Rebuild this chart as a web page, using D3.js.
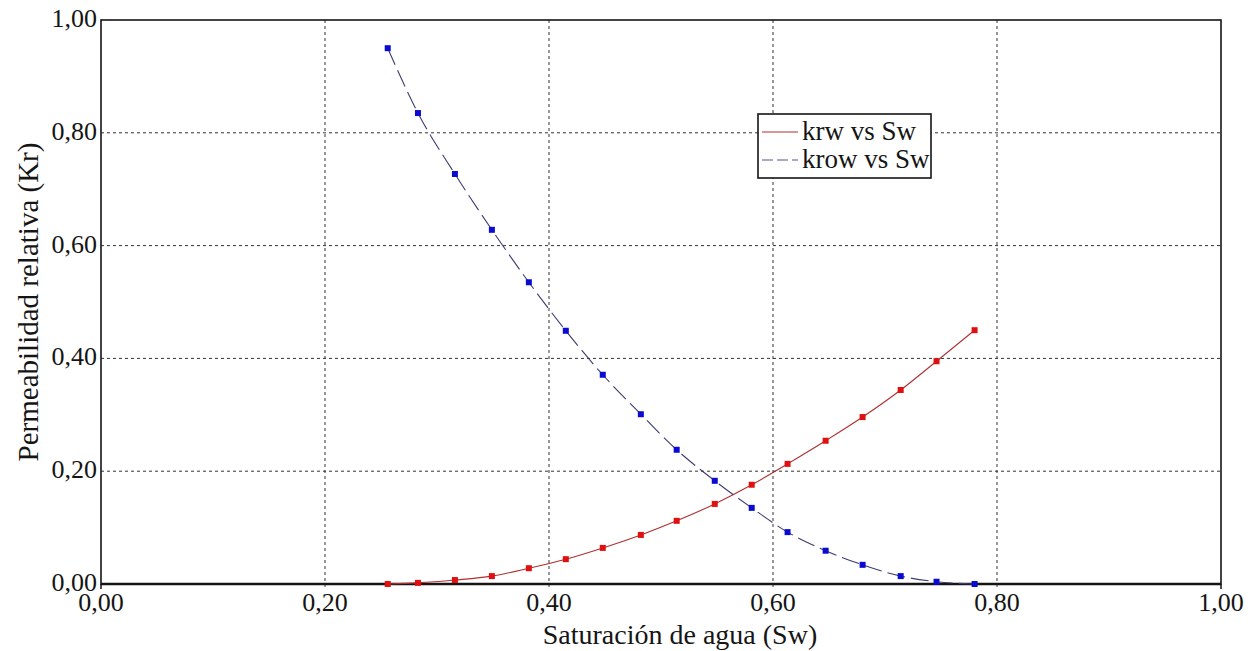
<!DOCTYPE html>
<html>
<head>
<meta charset="utf-8">
<script src="https://cdn.jsdelivr.net/npm/d3@7"></script>
<style>
  html, body { margin: 0; padding: 0; background: #fff; }
  svg { display: block; }
</style>
</head>
<body>
<svg id="chart" width="1257" height="651"></svg>
<script>
// Water saturation and relative permeability curves
const sw   = [0.256, 0.283, 0.316, 0.349, 0.382, 0.415, 0.448, 0.482, 0.514, 0.548, 0.581, 0.613, 0.647, 0.680, 0.714, 0.746, 0.780];
const krw  = [0.000, 0.002, 0.007, 0.014, 0.028, 0.044, 0.064, 0.087, 0.112, 0.142, 0.176, 0.213, 0.254, 0.296, 0.344, 0.395, 0.450];
const krow = [0.950, 0.835, 0.727, 0.628, 0.535, 0.449, 0.371, 0.301, 0.238, 0.183, 0.135, 0.092, 0.059, 0.034, 0.014, 0.004, 0.000];

const xTicks = [0, 0.2, 0.4, 0.6, 0.8, 1.0];
const yTicks = [0, 0.2, 0.4, 0.6, 0.8, 1.0];
const seriesNames = ["krw vs Sw", "krow vs Sw"];
const xTitle = "Saturación de agua (Sw)";
const yTitle = "Permeabilidad relativa (Kr)";

const fmt = v => v.toFixed(2).replace(".", ",");

const svg = d3.select("#chart")
  .attr("font-family", "'Liberation Serif', 'Times New Roman', Times, 'DejaVu Serif', serif");
const ink = "#151515";
const m = { left: 101, right: 1221, top: 20, bottom: 584 };

const x = d3.scaleLinear().domain([0, 1]).range([m.left, m.right]);
const y = d3.scaleLinear().domain([0, 1]).range([m.bottom, m.top]);

// dashed grid at the interior ticks
const grid = svg.append("g");
grid.selectAll("line.v").data(xTicks.filter(t => t > 0 && t < 1)).join("line")
  .attr("x1", d => x(d)).attr("x2", d => x(d))
  .attr("y1", m.top).attr("y2", m.bottom + 5)
  .attr("stroke", "#333").attr("stroke-width", 1).attr("stroke-dasharray", "3,3");
grid.selectAll("line.h").data(yTicks.filter(t => t > 0 && t < 1)).join("line")
  .attr("y1", d => y(d)).attr("y2", d => y(d))
  .attr("x1", m.left).attr("x2", m.right)
  .attr("stroke", "#333").attr("stroke-width", 1).attr("stroke-dasharray", "3,3");

// short ticks under the bottom axis at the edges
svg.append("g").selectAll("line").data([0, 1]).join("line")
  .attr("x1", d => x(d)).attr("x2", d => x(d))
  .attr("y1", m.bottom).attr("y2", m.bottom + 5)
  .attr("stroke", ink).attr("stroke-width", 1.5);

// frame
svg.append("rect")
  .attr("x", m.left).attr("y", m.top)
  .attr("width", m.right - m.left).attr("height", m.bottom - m.top)
  .attr("fill", "none").attr("stroke", ink).attr("stroke-width", 1.6);
svg.append("line")
  .attr("x1", m.left).attr("x2", m.right).attr("y1", m.bottom).attr("y2", m.bottom)
  .attr("stroke", ink).attr("stroke-width", 2.4);

// tick labels
svg.append("g").selectAll("text").data(xTicks).join("text")
  .attr("x", d => x(d)).attr("y", m.bottom + 27)
  .attr("text-anchor", "middle").attr("font-size", 26).attr("fill", ink)
  .text(fmt);
svg.append("g").selectAll("text").data(yTicks).join("text")
  .attr("x", m.left - 4).attr("y", d => y(d) + 7)
  .attr("text-anchor", "end").attr("font-size", 26).attr("fill", ink)
  .text(fmt);

// axis titles
svg.append("text")
  .attr("x", 680).attr("y", 644)
  .attr("text-anchor", "middle").attr("font-size", 28).attr("fill", ink)
  .text(xTitle);
svg.append("text")
  .attr("transform", `translate(38,${(m.top + m.bottom) / 2}) rotate(-90)`)
  .attr("text-anchor", "middle").attr("font-size", 29).attr("fill", ink)
  .text(yTitle);

// curves
const rowsW = sw.map((s, i) => ({ s, k: krw[i] }));
const rowsO = sw.map((s, i) => ({ s, k: krow[i] }));
const line = d3.line().x(d => x(d.s)).y(d => y(d.k)).curve(d3.curveMonotoneX);

svg.append("path").datum(rowsW).attr("d", line)
  .attr("fill", "none").attr("stroke", "#b03030").attr("stroke-width", 1.1);
svg.append("path").datum(rowsO).attr("d", line)
  .attr("fill", "none").attr("stroke", "#3c3c70").attr("stroke-width", 1.1)
  .attr("stroke-dasharray", "18,6");

const ms = 6;
svg.append("g").selectAll("rect").data(rowsW).join("rect")
  .attr("x", d => x(d.s) - ms / 2).attr("y", d => y(d.k) - ms / 2)
  .attr("width", ms).attr("height", ms).attr("fill", "#e01010");
svg.append("g").selectAll("rect").data(rowsO).join("rect")
  .attr("x", d => x(d.s) - ms / 2).attr("y", d => y(d.k) - ms / 2)
  .attr("width", ms).attr("height", ms).attr("fill", "#0a0ad0");

// legend
const lg = svg.append("g").attr("transform", "translate(758,114)");
lg.append("rect").attr("width", 173).attr("height", 64)
  .attr("fill", "#fff").attr("stroke", ink).attr("stroke-width", 1.6);
const legendStyles = [
  { color: "#b03030", dash: null },
  { color: "#555590", dash: "11,4" }
];
seriesNames.forEach((name, i) => {
  const cy = 18 + i * 28;
  lg.append("line").attr("x1", 4).attr("x2", 40).attr("y1", cy).attr("y2", cy)
    .attr("stroke", legendStyles[i].color).attr("stroke-width", 1.1)
    .attr("stroke-dasharray", legendStyles[i].dash);
  lg.append("text").attr("x", 44).attr("y", cy + 8)
    .attr("font-size", 27).attr("fill", ink).text(name);
});
</script>
</body>
</html>
